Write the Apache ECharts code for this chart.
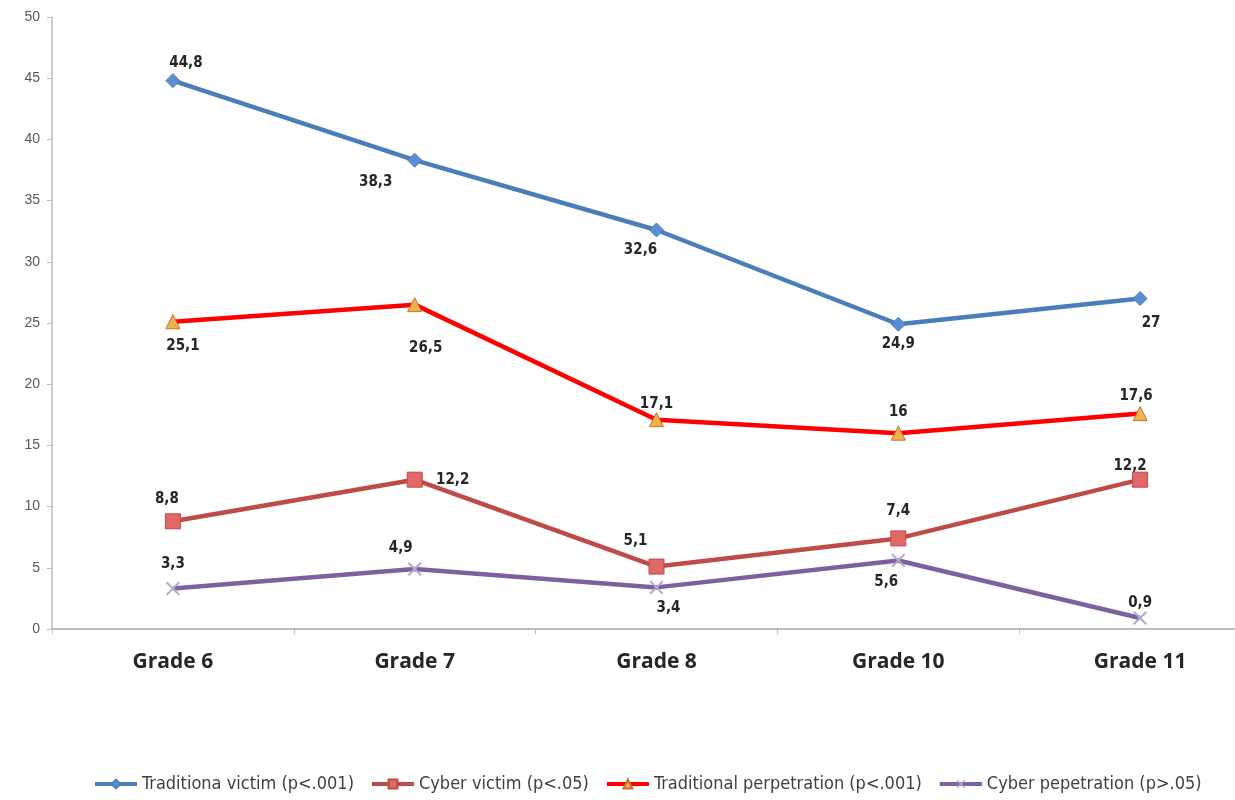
<!DOCTYPE html>
<html>
<head>
<meta charset="utf-8">
<script src="https://cdn.jsdelivr.net/npm/echarts@6/dist/echarts.min.js"></script>
<style>html,body{margin:0;padding:0;background:#fff;overflow:hidden;width:1235px;height:800px}#c{width:1261px;height:800px}</style>
</head>
<body>
<div id="c"></div>
<script>
const categories = ['Grade 6', 'Grade 7', 'Grade 8', 'Grade 10', 'Grade 11'];
const seriesNames = ['Traditiona victim (p<.001)', 'Cyber victim (p<.05)', 'Traditional perpetration (p<.001)', 'Cyber pepetration (p>.05)'];
const tradVictim = [44.8, 38.3, 32.6, 24.9, 27];
const cyberVictim = [8.8, 12.2, 5.1, 7.4, 12.2];
const tradPerp = [25.1, 26.5, 17.1, 16, 17.6];
const cyberPerp = [3.3, 4.9, 3.4, 5.6, 0.9];
const yTicks = [0, 5, 10, 15, 20, 25, 30, 35, 40, 45, 50];

// label offsets (style only)
const offTV = [[13,-18],[-39,22],[-16,20],[0,20],[11,25]];
const offCV = [[-6,-22],[38,0],[-21,-25],[0,-27],[-10,-14]];
const offTP = [[10,24],[11,43],[0,-16],[0,-21],[-4,-17]];
const offCP = [[0,-24],[-14,-21],[12,21],[-12,22],[0,-15]];

function fmt(v){ return String(v).replace('.', ','); }
function mk(vals, offs){
  return vals.map((v,i)=>({value:v, label:{show:true, position:'inside', offset:offs[i],
    formatter: fmt(v), color:'#262626', fontWeight:'bold', fontSize:15, fontFamily:'DejaVu Sans Condensed, DejaVu Sans'}}));
}
const xPath = 'path://M0,1L1,0L5,4L9,0L10,1L6,5L10,9L9,10L5,6L1,10L0,9L4,5Z';

const chart = echarts.init(document.getElementById('c'));
chart.setOption({
  animation:false,
  backgroundColor:'#fff',
  grid:{left:52, right:0, top:17, bottom:171, containLabel:false},
  legend:{
    bottom:2, left:88, itemGap:16, itemWidth:42, itemHeight:11,
    lineStyle:{width:4},
    textStyle:{fontSize:18, color:'#404040', fontFamily:'DejaVu Sans Condensed, DejaVu Sans'},
    data:seriesNames
  },
  xAxis:{
    type:'category', data:categories, boundaryGap:true,
    axisLine:{lineStyle:{color:'#bdbdbd', width:2}},
    axisTick:{show:true, length:5, lineStyle:{color:'#bdbdbd'}},
    axisLabel:{margin:23, fontSize:21, fontWeight:'bold', color:'#262626', fontFamily:'Open Sans'},
    splitLine:{show:false}
  },
  yAxis:{
    type:'value', min:0, max:50, interval:5,
    axisLine:{show:true, lineStyle:{color:'#bdbdbd', width:1.5}},
    axisTick:{show:true, length:5, lineStyle:{color:'#bdbdbd'}},
    axisLabel:{margin:12, fontSize:14, color:'#595959', fontFamily:'Liberation Sans',
      formatter:v=>yTicks.includes(v)?String(v):''},
    splitLine:{show:false}
  },
  series:[
    {name:seriesNames[0], type:'line', data:mk(tradVictim, offTV), symbol:'diamond', symbolSize:14,
      lineStyle:{color:'#4a7ebb', width:4.5}, itemStyle:{color:'#5b8fd0', borderColor:'#4a7ebb', borderWidth:1}, z:3},
    {name:seriesNames[1], type:'line', data:mk(cyberVictim, offCV), symbol:'rect', symbolSize:15,
      lineStyle:{color:'#be4b48', width:4.5}, itemStyle:{color:'#e06866', borderColor:'#be4b48', borderWidth:1}, z:3},
    {name:seriesNames[2], type:'line', data:mk(tradPerp, offTP), symbol:'triangle', symbolSize:14,
      lineStyle:{color:'#ff0000', width:4.5}, itemStyle:{color:'#f0b24a', borderColor:'#c8702a', borderWidth:1}, z:3},
    {name:seriesNames[3], type:'line', data:mk(cyberPerp, offCP), symbol:xPath, symbolSize:14,
      lineStyle:{color:'#7d60a0', width:4.5}, itemStyle:{color:'#b5a8cc', borderColor:'#b5a8cc', borderWidth:0}, z:3}
  ]
});
</script>
</body>
</html>
